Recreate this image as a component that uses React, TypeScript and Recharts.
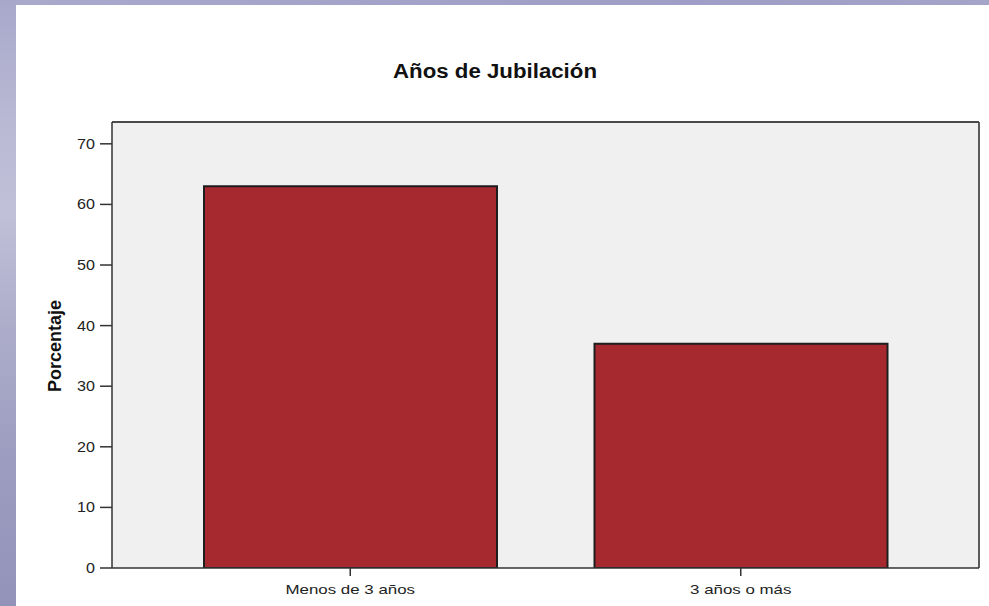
import { BarChart, Bar, XAxis, YAxis, CartesianGrid } from "recharts";

const categories = ["Menos de 3 años", "3 años o más"];
const percentages = [63, 37];
const yTicks = [0, 10, 20, 30, 40, 50, 60, 70];
const yMax = 73.6;

const chartData = categories.map((name, i) => ({ name, value: percentages[i] }));

const FONT = '"Liberation Sans", Arial, Helvetica, sans-serif';

function YTick({ x, y, payload }: any) {
  return (
    <g transform={`translate(${x - 3},${y}) scale(1.15,1)`}>
      <text x={0} y={0} dy={5} textAnchor="end" fontSize={14} fill="#222" fontFamily={FONT}>
        {payload.value}
      </text>
    </g>
  );
}

function XTick({ x, y, payload }: any) {
  return (
    <g transform={`translate(${x},${y}) scale(1.3,1)`}>
      <text x={0} y={16} textAnchor="middle" fontSize={13} fill="#222" fontFamily={FONT}>
        {payload.value}
      </text>
    </g>
  );
}

// top and right edges of the plot frame
const topEdge = ({ offset }: any) => [offset.top];
const rightEdge = ({ offset }: any) => [offset.left + offset.width];

export default function App() {
  return (
    <div
      style={{
        position: "fixed",
        top: 0,
        left: 0,
        width: 989,
        height: 606,
        background: "#fff",
        overflow: "hidden",
      }}
    >
      {/* slide frame */}
      <div
        style={{
          position: "absolute",
          left: 0,
          top: 0,
          width: 989,
          height: 5,
          background: "linear-gradient(90deg, #a9a9cc 0%, #a3a3c9 40%, #9e9ec6 70%, #a4a4c9 100%)",
        }}
      />
      <div
        style={{
          position: "absolute",
          left: 0,
          top: 0,
          width: 16,
          height: 606,
          background:
            "linear-gradient(180deg, #a8a8cb 0%, #b9b9d4 20%, #c0c0d8 35%, #acacca 55%, #9d9dc1 75%, #9393ba 100%)",
        }}
      />

      <div style={{ position: "absolute", left: 0, top: 0 }}>
        <BarChart
          width={989}
          height={606}
          data={chartData}
          margin={{ top: 122, right: 10, bottom: 0, left: 16 }}
        >
          <CartesianGrid
            fill="#f0f0f0"
            stroke="#4a4a4a"
            strokeWidth={1.8}
            strokeDasharray=""
            horizontalCoordinatesGenerator={topEdge}
            verticalCoordinatesGenerator={rightEdge}
          />
          <XAxis
            dataKey="name"
            height={38}
            padding={{ left: 43, right: 43 }}
            axisLine={{ stroke: "#333", strokeWidth: 1.5 }}
            tickLine={{ stroke: "#333", strokeWidth: 1.5 }}
            tickSize={8}
            tick={<XTick />}
            interval={0}
          />
          <YAxis
            width={96}
            domain={[0, yMax]}
            ticks={yTicks}
            allowDataOverflow
            axisLine={{ stroke: "#333", strokeWidth: 1.5 }}
            tickLine={{ stroke: "#333", strokeWidth: 1.5 }}
            tickSize={12}
            tick={<YTick />}
          />
          <Bar
            dataKey="value"
            fill="#a5292e"
            stroke="#1e1e1e"
            strokeWidth={2}
            barSize={293}
            isAnimationActive={false}
          />
        </BarChart>
      </div>

      <svg
        width={989}
        height={606}
        style={{ position: "absolute", left: 0, top: 0, pointerEvents: "none" }}
      >
        <text
          transform="translate(495,78) scale(1.06,1)"
          textAnchor="middle"
          fontSize={21}
          fontWeight="bold"
          fill="#111"
          fontFamily={FONT}
        >
          Años de Jubilación
        </text>
        <text
          transform="translate(61,346) rotate(-90)"
          textAnchor="middle"
          fontSize={18}
          fontWeight="bold"
          fill="#111"
          fontFamily={FONT}
        >
          Porcentaje
        </text>
      </svg>
    </div>
  );
}
